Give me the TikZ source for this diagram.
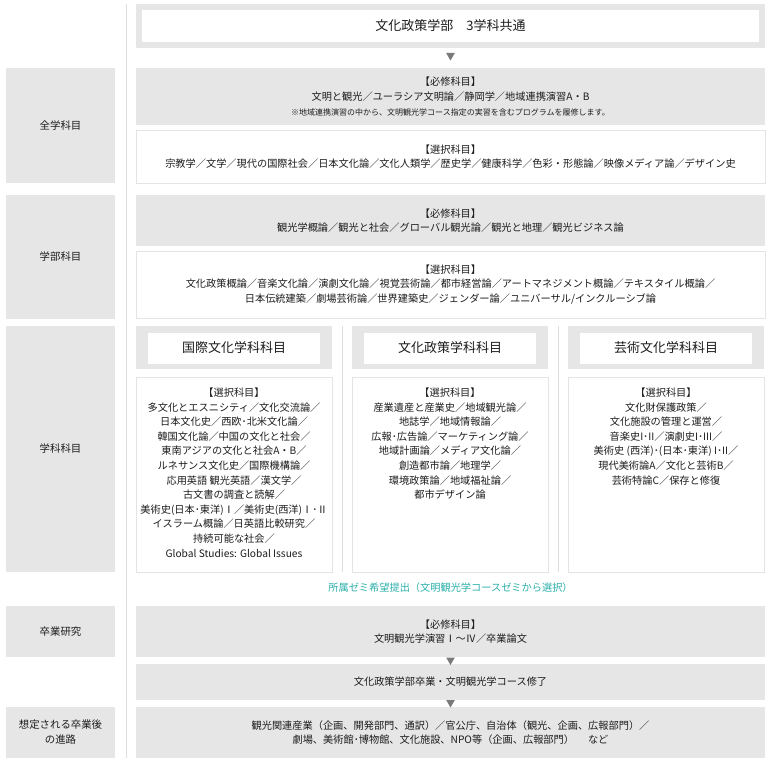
\documentclass[tikz,border=0pt]{standalone}
\usepackage{fontspec}
\setmainfont{Noto Sans CJK JP}
\usepackage{tikz}
\usetikzlibrary{shapes.geometric,calc}
\definecolor{boxgray}{HTML}{E6E6E6}
\definecolor{linegray}{HTML}{E4E4E4}
\definecolor{sepgray}{HTML}{DEDEDE}
\definecolor{textgray}{HTML}{1C1C1C}
\definecolor{markgray}{HTML}{7A7A7A}
\definecolor{zemiteal}{HTML}{2BB0AA}
\newcommand\bodyfnt{\fontsize{10.2}{14.6}\selectfont}
\newcommand\notefnt{\fontsize{8}{10}\selectfont}
\newcommand\headfnt{\fontsize{13}{16}\selectfont}
\newcommand\namefnt{\fontsize{10.4}{15}\selectfont}
\tikzset{%
  cell/.style     = {shape=rectangle, inner sep=0pt, align=center},%
  graybox/.style  = {cell, fill=boxgray},%
  whitebox/.style = {cell, fill=white, draw=linegray, line width=0.8pt},%
  rowname/.style  = {graybox, minimum width=109pt, font=\namefnt},%
  mainrow/.style  = {minimum width=629pt},%
  colframe/.style = {graybox, minimum width=196pt, minimum height=43pt},%
  colhead/.style  = {cell, fill=white, minimum width=172pt, minimum height=31pt, font=\headfnt},%
  colbody/.style  = {whitebox, minimum width=196pt, minimum height=195pt},%
  downmark/.style = {regular polygon, regular polygon sides=3, shape border rotate=180,%
                     fill=markgray, inner sep=0pt, minimum size=10pt},%
  sepline/.style  = {draw=sepgray, line width=0.8pt}%
}
\begin{document}
\begin{tikzpicture}[x=1pt, y=-1pt, every node/.style = {text=textgray, font=\bodyfnt}]
	\fill[white] (0,0) rectangle (770,770);
	\useasboundingbox (0,0) rectangle (770,770);
	\coordinate (sepTop) at (126,4);
	\coordinate (sepBot) at (126,758);
	\draw[sepline] (sepTop) -- (sepBot);
	% left column
	\node[rowname, minimum height=115pt] (allName) at (60.5,125.5) {全学科目};
	\node[rowname, minimum height=124pt] (facName) at (60.5,257) {学部科目};
	\node[rowname, minimum height=246pt] (depName) at (60.5,449) {学科科目};
	\node[rowname, minimum height=51pt] (gradName) at (60.5,631.5) {卒業研究};
	\node[rowname, minimum height=51pt] (careerName) at (60.5,732.5) {想定される卒業後\\の進路};
	% main column
	\node[cell, fill=white, draw=boxgray, line width=6pt, minimum width=623pt, minimum height=38pt,
		font=\headfnt] (title) at (450.5,26) {文化政策学部　3学科共通};
	\node[downmark] (mark1) at (450.5,55.5) {};
	\node[graybox, mainrow, minimum height=57pt] (allReq) at (450.5,96.5)
		{【必修科目】\\文明と観光／ユーラシア文明論／静岡学／地域連携演習A・B\\
		{\notefnt ※地域連携演習の中から、文明観光学コース指定の実習を含むプログラムを履修します。}};
	\node[whitebox, mainrow, minimum height=53pt] (allEle) at (450.5,156.5)
		{【選択科目】\\宗教学／文学／現代の国際社会／日本文化論／文化人類学／歴史学／健康科学／色彩・形態論／映像メディア論／デザイン史};
	\node[graybox, mainrow, minimum height=51pt] (facReq) at (450.5,220.5)
		{【必修科目】\\観光学概論／観光と社会／グローバル観光論／観光と地理／観光ビジネス論};
	\node[whitebox, mainrow, minimum height=67pt] (facEle) at (450.5,284.5)
		{【選択科目】\\文化政策概論／音楽文化論／演劇文化論／視覚芸術論／都市経営論／アートマネジメント概論／テキスタイル概論／\\
		日本伝統建築／劇場芸術論／世界建築史／ジェンダー論／ユニバーサル/インクルーシブ論};
	% three departments
	\coordinate (sepA) at (342,326);
	\coordinate (sepAend) at (342,572);
	\coordinate (sepB) at (558,326);
	\coordinate (sepBend) at (558,572);
	\draw[sepline] (sepA) -- (sepAend);
	\draw[sepline] (sepB) -- (sepBend);
	\node[colframe] (intlFrame) at (234,347.5) {};
	\node[colhead] (intlHead) at (234,348) {国際文化学科科目};
	\node[colbody] (intlBody) at (234,474.5) {};
	\node[cell, anchor=north] (intlText) at ([yshift=-11pt]intlBody.north)
		{【選択科目】\\多文化とエスニシティ／文化交流論／\\日本文化史／西欧･北米文化論／\\
		韓国文化論／中国の文化と社会／\\東南アジアの文化と社会A・B／\\ルネサンス文化史／国際機構論／\\
		応用英語 観光英語／漢文学／\\古文書の調査と読解／\\美術史(日本･東洋)Ⅰ／美術史(西洋)Ⅰ･Ⅱ\\
		イスラーム概論／日英語比較研究／\\持続可能な社会／\\Global Studies: Global Issues};
	\node[colframe] (polFrame) at (450,347.5) {};
	\node[colhead] (polHead) at (450,348) {文化政策学科科目};
	\node[colbody] (polBody) at (450,474.5) {};
	\node[cell, anchor=north] (polText) at ([yshift=-11pt]polBody.north)
		{【選択科目】\\産業遺産と産業史／地域観光論／\\地誌学／地域情報論／\\広報･広告論／マーケティング論／\\
		地域計画論／メディア文化論／\\創造都市論／地理学／\\環境政策論／地域福祉論／\\都市デザイン論};
	\node[colframe] (artFrame) at (666,347.5) {};
	\node[colhead] (artHead) at (666,348) {芸術文化学科科目};
	\node[colbody] (artBody) at (666,474.5) {};
	\node[cell, anchor=north] (artText) at ([yshift=-11pt]artBody.north)
		{【選択科目】\\文化財保護政策／\\文化施設の管理と運営／\\音楽史I･II／演劇史I･III／\\
		美術史 (西洋)･(日本･東洋) I･II／\\現代美術論A／文化と芸術B／\\芸術特論C／保存と修復};
	% seminar and graduation
	\node[text=zemiteal] (zemi) at (450.5,588) {所属ゼミ希望提出（文明観光学コースゼミから選択）};
	\node[graybox, mainrow, minimum height=51pt] (gradReq) at (450.5,631.5)
		{【必修科目】\\文明観光学演習Ⅰ～Ⅳ／卒業論文};
	\node[graybox, mainrow, minimum height=36pt] (finish) at (450.5,682) {文化政策学部卒業・文明観光学コース修了};
	\node[graybox, mainrow, minimum height=51pt] (career) at (450.5,732.5)
		{観光関連産業（企画、開発部門、通訳）／官公庁、自治体（観光、企画、広報部門）／\\
		劇場、美術館･博物館、文化施設、NPO等（企画、広報部門）\hspace{14pt}など};
	\node[downmark] (mark2) at (450.5,660) {};
	\node[downmark] (mark3) at (450.5,702.5) {};
\end{tikzpicture}
\end{document}
